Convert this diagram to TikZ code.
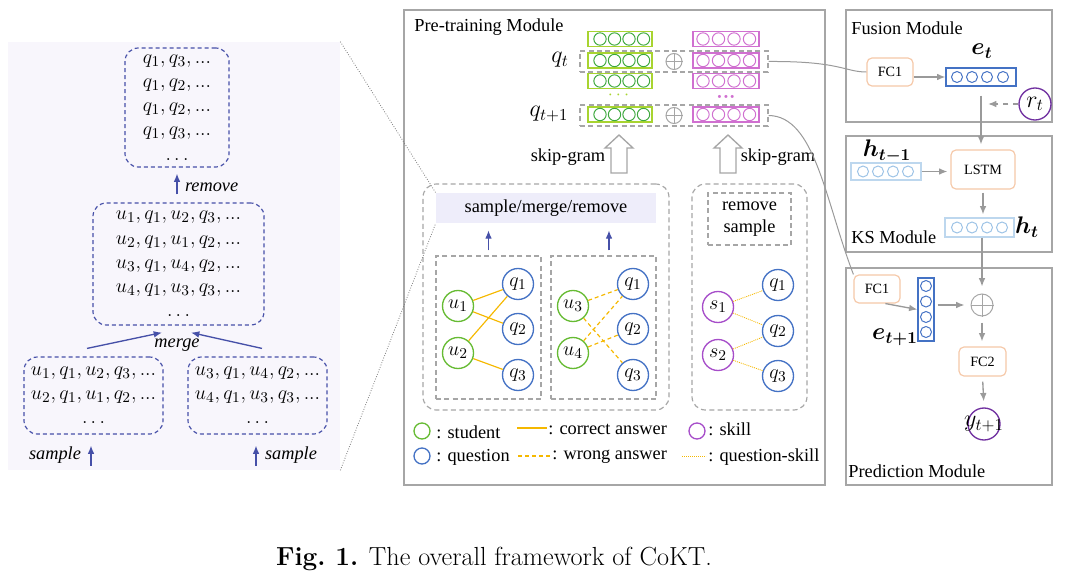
\documentclass[tikz,border=0pt]{standalone}
\usepackage{fontspec}
\usepackage{amsmath}
\usepackage{bm}
\newfontfamily\tnr{Liberation Serif}
\usetikzlibrary{positioning,calc}
\usetikzlibrary{arrows.meta}

\definecolor{panelbg}{HTML}{F8F6FC}
\definecolor{dblue}{HTML}{4650A8}
\definecolor{framegray}{HTML}{A6A6A6}
\definecolor{arrgray}{HTML}{9A9A9A}
\definecolor{stugreen}{HTML}{66BB33}
\definecolor{qblue}{HTML}{4472C4}
\definecolor{skillpurple}{HTML}{A64DC9}
\definecolor{ansgold}{HTML}{F5B800}
\definecolor{embgreen}{HTML}{A8D430}
\definecolor{circgreen}{HTML}{3DA83D}
\definecolor{embpink}{HTML}{D070D0}
\definecolor{fcorange}{HTML}{F5C8A8}
\definecolor{hblue}{HTML}{BDD7EE}
\definecolor{hcirc}{HTML}{9DC3E6}
\definecolor{rpurple}{HTML}{7030A0}
\definecolor{smrfill}{HTML}{EEEDFA}

\begin{document}
\begin{tikzpicture}[x=0.6pt,y=-0.6pt,
    every node/.style={font=\tnr\fontsize{11}{13}\selectfont},
    frame/.style={draw=framegray,line width=0.8pt,inner sep=0pt},
    title/.style={anchor=west,inner sep=0pt},
    seqbox/.style={draw=dblue,dash pattern=on 2.4pt off 1.8pt,rounded corners=8pt,line width=0.7pt,inner sep=0pt,align=center,font=\fontsize{12.5}{14.5}\selectfont},
    bluearrow/.style={-{Latex[length=5pt,width=4pt]},dblue,line width=0.8pt},
    opname/.style={font=\tnr\itshape\fontsize{11}{13}\selectfont,inner sep=1pt},
    zoomline/.style={gray,densely dotted,line width=0.5pt},
    gdash/.style={draw=framegray,dash pattern=on 3pt off 2pt,line width=0.7pt,inner sep=0pt},
    smrbox/.style={fill=smrfill,inner sep=0pt},
    stu/.style={circle,draw=stugreen,line width=0.8pt,minimum size=18.6pt,inner sep=0pt,font=\fontsize{13}{15}\selectfont},
    ques/.style={stu,draw=qblue},
    skl/.style={stu,draw=skillpurple},
    correct/.style={ansgold,line width=0.7pt},
    wrong/.style={correct,dash pattern=on 2.4pt off 1.8pt},
    qskill/.style={ansgold,dash pattern=on 0.6pt off 0.6pt,line width=0.5pt},
    legcirc/.style={circle,line width=0.8pt,minimum size=9.6pt,inner sep=0pt},
    legtext/.style={anchor=west,inner sep=0pt},
    embg/.style={draw=embgreen,line width=0.8pt,minimum width=38.4pt,minimum height=9pt,inner sep=0pt},
    embp/.style={embg,draw=embpink,minimum width=39.6pt},
    cg/.style={circle,draw=circgreen,line width=0.6pt,minimum size=7.4pt,inner sep=0pt},
    cp/.style={cg,draw=embpink},
    oplus/.style={circle,draw=framegray,line width=0.6pt,inner sep=0pt},
    crossline/.style={framegray,line width=0.6pt},
    hollow/.style={draw=framegray,fill=white,line width=0.8pt},
    fc/.style={draw=fcorange,rounded corners=3pt,line width=0.7pt,inner sep=0pt,font=\tnr\fontsize{8.5}{10}\selectfont},
    vec/.style={draw=qblue,line width=0.7pt,inner sep=0pt},
    vc/.style={circle,draw=qblue,line width=0.6pt,minimum size=6.6pt,inner sep=0pt},
    hvec/.style={vec,draw=hblue},
    hc/.style={vc,draw=hcirc},
    vlabel/.style={font=\fontsize{14}{16}\selectfont,inner sep=0pt},
    pcirc/.style={circle,draw=rpurple,line width=0.8pt,minimum size=19.2pt,inner sep=0pt,font=\fontsize{14}{16}\selectfont},
    garrow/.style={-{Latex[length=5pt,width=4pt]},arrgray,line width=0.8pt},
    link/.style={arrgray,line width=0.6pt}
  ]
\useasboundingbox (0,0) rectangle (1083,577);

% left panel: walk sequences
\node[fill=panelbg,minimum width=199.2pt,minimum height=256.8pt,inner sep=0pt] (panel) at (174,256) {};
\node[seqbox,minimum width=62.4pt,minimum height=71.4pt] (top) at (177,107.5)
  {$q_1,q_3,...$\\$q_1,q_2,...$\\$q_1,q_2,...$\\$q_1,q_3,...$\\$\ldots$};
\node[seqbox,minimum width=102.6pt,minimum height=73.2pt] (mid) at (178.5,264)
  {$u_1,q_1,u_2,q_3,...$\\$u_2,q_1,u_1,q_2,...$\\$u_3,q_1,u_4,q_2,...$\\$u_4,q_1,u_3,q_3,...$\\$\ldots$};
\node[seqbox,minimum width=83.4pt,minimum height=46.2pt] (bl) at (93.5,395.5)
  {$u_1,q_1,u_2,q_3,...$\\$u_2,q_1,u_1,q_2,...$\\$\ldots$};
\node[seqbox,minimum width=83.4pt,minimum height=46.2pt] (br) at (257.5,395.5)
  {$u_3,q_1,u_4,q_2,...$\\$u_4,q_1,u_3,q_3,...$\\$\ldots$};

\draw[bluearrow,shorten <=4.8pt,shorten >=3.6pt] (top.south |- mid.north) -- (top.south);
\node[opname,anchor=west] (lremove) at (183,187) {remove};
\draw[bluearrow] ($(bl.north)+(-6.5,-8)$) -- ($(mid.south)+(-16.5,7)$);
\draw[bluearrow] ($(br.north)+(4.5,-8)$) -- ($(mid.south)+(12.5,7)$);
\node[opname] (lmerge) at (177,345) {merge};
\draw[bluearrow] ($(bl.south)+(-2.5,31)$) -- ($(bl.south)+(-2.5,11)$);
\node[opname] (lsample1) at (55,455) {sample};
\draw[bluearrow] ($(br.south)+(-1.5,31)$) -- ($(br.south)+(-1.5,11)$);
\node[opname] (lsample2) at (291,455) {sample};

% pre-training module
\node[frame,minimum width=252.6pt,minimum height=285pt] (pre) at (614.5,247.5) {};
\node[title] (pretitle) at (414,27) {Pre-training Module};

\foreach \r [count=\i] in {39,60.5,81,114.5}{
  \node[embg] (g\i) at (620,\r) {};
  \foreach \c [count=\j] in {600,614.5,629,643.5} \node[cg] (g\i-\j) at (\c,\r) {};
  \node[embp] (p\i) at (726,\r) {};
  \foreach \c [count=\j] in {703,718.5,734,749.5} \node[cp] (p\i-\j) at (\c,\r) {};
}
\node[inner sep=0pt,text=embgreen] (gdots) at (620,95) {$\cdots$};
\node[inner sep=0pt,text=embpink,font=\fontsize{12}{14}\selectfont] (pdots) at (726,97) {$\bm{...}$};
\node[gdash,minimum width=112.8pt,minimum height=12.6pt] (qtbox) at (674,61.5) {};
\node[gdash,minimum width=112.8pt,minimum height=12.6pt] (qt1box) at (674,115.5) {};
\node[oplus,minimum size=9.6pt] (op1) at (674,61.5) {};
\node[oplus,minimum size=9.6pt] (op2) at (674,115.5) {};
\node[vlabel] (lqt) at (560,60) {$q_t$};
\node[vlabel] (lqt1) at (549,114) {$q_{t+1}$};

\foreach \x in {619,728}
  \draw[hollow] (\x-8,173) -- (\x-8,148) -- (\x-14,148) -- (\x,135) -- (\x+14,148) -- (\x+8,148) -- (\x+8,173) -- cycle;
\node (sg1) at (568,157) {skip-gram};
\node (sg2) at (778,157) {skip-gram};

\node[gdash,rounded corners=8pt,minimum width=147.6pt,minimum height=135.6pt] (uqgroup) at (546,297) {};
\node[gdash,rounded corners=8pt,minimum width=69pt,minimum height=135.6pt] (sqgroup) at (749.5,297) {};
\node[smrbox,minimum width=132pt,minimum height=18pt] (smr) at (546,208) {sample/merge/remove};
\node[gdash,minimum width=63pt,minimum height=85.8pt] (gl) at (488.5,327.5) {};
\node[gdash,minimum width=63pt,minimum height=85.8pt] (gr) at (603.5,327.5) {};
\node[gdash,minimum width=49.8pt,minimum height=31.2pt,align=center] (rs) at (749.5,219) {remove\\sample};
\draw[bluearrow,shorten <=3pt,shorten >=4.2pt] (gl.north) -- (gl.north |- smr.south);
\draw[bluearrow,shorten <=3pt,shorten >=4.2pt] ([xshift=3.3pt]gr.north) -- ([xshift=3.3pt]gr.north |- smr.south);

\node[stu] (u1) at (458,306) {$u_1$};
\node[stu] (u2) at (458,353) {$u_2$};
\node[ques] (qa1) at (518,284) {$q_1$};
\node[ques] (qa2) at (518,329) {$q_2$};
\node[ques] (qa3) at (518,375) {$q_3$};
\node[stu] (u3) at (573,306) {$u_3$};
\node[stu] (u4) at (573,353) {$u_4$};
\node[ques] (qb1) at (633,284) {$q_1$};
\node[ques] (qb2) at (633,329) {$q_2$};
\node[ques] (qb3) at (633,375) {$q_3$};
\node[skl] (s1) at (718,307) {$s_1$};
\node[skl] (s2) at (718,355) {$s_2$};
\node[ques] (qc1) at (778,285) {$q_1$};
\node[ques] (qc2) at (778,331) {$q_2$};
\node[ques] (qc3) at (778,376) {$q_3$};

\draw[correct] (u1) -- (qa1);
\draw[correct] (u1) -- (qa2);
\draw[correct] (u2) -- (qa1);
\draw[correct] (u2) -- (qa3);
\draw[wrong] (u3) -- (qb1);
\draw[wrong] (u3) -- (qb3);
\draw[wrong] (u4) -- (qb1);
\draw[wrong] (u4) -- (qb2);
\draw[qskill] (s1) -- (qc1);
\draw[qskill] (s1) -- (qc2);
\draw[qskill] (s2) -- (qc2);
\draw[qskill] (s2) -- (qc3);

% legend
\node[legcirc,draw=stugreen] (lgstu) at (422,431) {};
\node[legtext] (lgstut) at (436,432) {: student};
\node[legcirc,draw=qblue] (lgq) at (422,456) {};
\node[legtext] (lgqt) at (436,457) {: question};
\draw[correct] (517,428) -- (547,428);
\node[legtext] (lgct) at (548,429) {: correct answer};
\draw[wrong] (518,456) -- (550,456);
\node[legtext] (lgwt) at (552,457) {: wrong answer};
\node[legcirc,draw=skillpurple] (lgs) at (697,431) {};
\node[legtext] (lgst) at (708,429) {: skill};
\draw[qskill] (682,456) -- (706,456);
\node[legtext] (lgqst) at (708,457) {: question-skill};

\draw[zoomline] (panel.north east) -- (smr.north west);
\draw[zoomline] (panel.south east) -- (smr.south west);

% fusion module
\node[frame,minimum width=123.6pt,minimum height=67.2pt] (fus) at (949,66) {};
\node[title] (fustitle) at (851,28) {Fusion Module};
\node[fc,minimum width=27.6pt,minimum height=16.8pt] (fc1a) at (890,72) {FC1};
\node[vec,minimum width=42pt,minimum height=10.8pt] (et) at (981,77) {};
\foreach \c [count=\j] in {957,972,987,1003} \node[vc] (et-\j) at (\c,77) {};
\node[vlabel] (let) at (982,51) {$\bm{e_t}$};
\node[pcirc] (rt) at (1035,104) {$r_t$};

% KS module
\node[frame,minimum width=123.6pt,minimum height=69.6pt] (ks) at (949,194) {};
\node[title] (kstitle) at (851,237) {KS Module};
\node[hvec,minimum width=42pt,minimum height=10.2pt] (htm1) at (886,171.5) {};
\foreach \c [count=\j] in {863,878,893,908} \node[hc] (htm1-\j) at (\c,171.5) {};
\node[vlabel] (lhtm1) at (887,151) {$\bm{h_{t-1}}$};
\node[fc,minimum width=38.4pt,minimum height=23.4pt] (lstm) at (983,169.5) {LSTM};
\node[hvec,minimum width=41.4pt,minimum height=11.4pt] (ht) at (979.5,227.5) {};
\foreach \c [count=\j] in {957,972,987,1002} \node[hc] (ht-\j) at (\c,227.5) {};
\node[vlabel] (lht) at (1027,227) {$\bm{h_t}$};

% prediction module
\node[frame,minimum width=123.6pt,minimum height=130.2pt] (pred) at (949,376.5) {};
\node[title] (predtitle) at (848,471) {Prediction Module};
\node[fc,minimum width=27.6pt,minimum height=16.8pt] (fc1b) at (877,289) {FC1};
\node[vec,minimum width=9.6pt,minimum height=37.8pt] (ep1) at (926,309.5) {};
\foreach \r [count=\j] in {286,301.5,317,332} \node[vc] (ep1-\j) at (926,\r) {};
\node[vlabel] (lep1) at (895,337) {$\bm{e_{t+1}}$};
\node[oplus,minimum size=13.2pt] (op3) at (982,305) {};
\node[fc,minimum width=28.2pt,minimum height=17.4pt] (fc2) at (982.5,361.5) {FC2};
\node[pcirc,label={[font=\fontsize{14}{16}\selectfont]center:$y_{t+1}$}] (yt1) at (984,424) {};

\foreach \n in {op1,op2,op3}
  \draw[crossline] (\n.north) -- (\n.south) (\n.west) -- (\n.east);

% connectors
\draw[link] (qtbox.east) .. controls (840,61) and (845,72) .. (fc1a.west);
\draw[link] (qt1box.east) .. controls (815,116) and (825,200) .. (fc1b.north west);
\draw[garrow] (fc1a.east |- et.west) -- (et.west);
\draw[garrow,shorten <=5.4pt,shorten >=3pt] (et.south) -- (et.south |- lstm.north);
\draw[garrow,dashed,shorten >=4.2pt] (rt.west) -- (rt.west -| et.south);
\draw[garrow,shorten >=1.8pt] (htm1.east) -- (htm1.east -| lstm.west);
\draw[garrow,shorten <=1.8pt,shorten >=1.8pt] (lstm.south) -- (lstm.south |- ht.north);
\draw[garrow,shorten >=4.2pt] (op3.north |- ht.south) -- (op3.north);
\draw[garrow] (fc1b.-60) -- (ep1.west);
\draw[garrow,shorten <=1.8pt,shorten >=3.6pt] (ep1.east |- op3.west) -- (op3.west);
\draw[garrow,shorten <=3.6pt,shorten >=3pt] (op3.south) -- (op3.south |- fc2.north);
\draw[garrow,shorten <=3pt,shorten >=3.6pt] (fc2.south) -- (yt1.north);

% caption
\node[anchor=base,font=\rmfamily\fontsize{15.7}{19}\selectfont] (caption) at (494,565) {\textbf{Fig.~1.} The overall framework of CoKT.};
\end{tikzpicture}
\end{document}
